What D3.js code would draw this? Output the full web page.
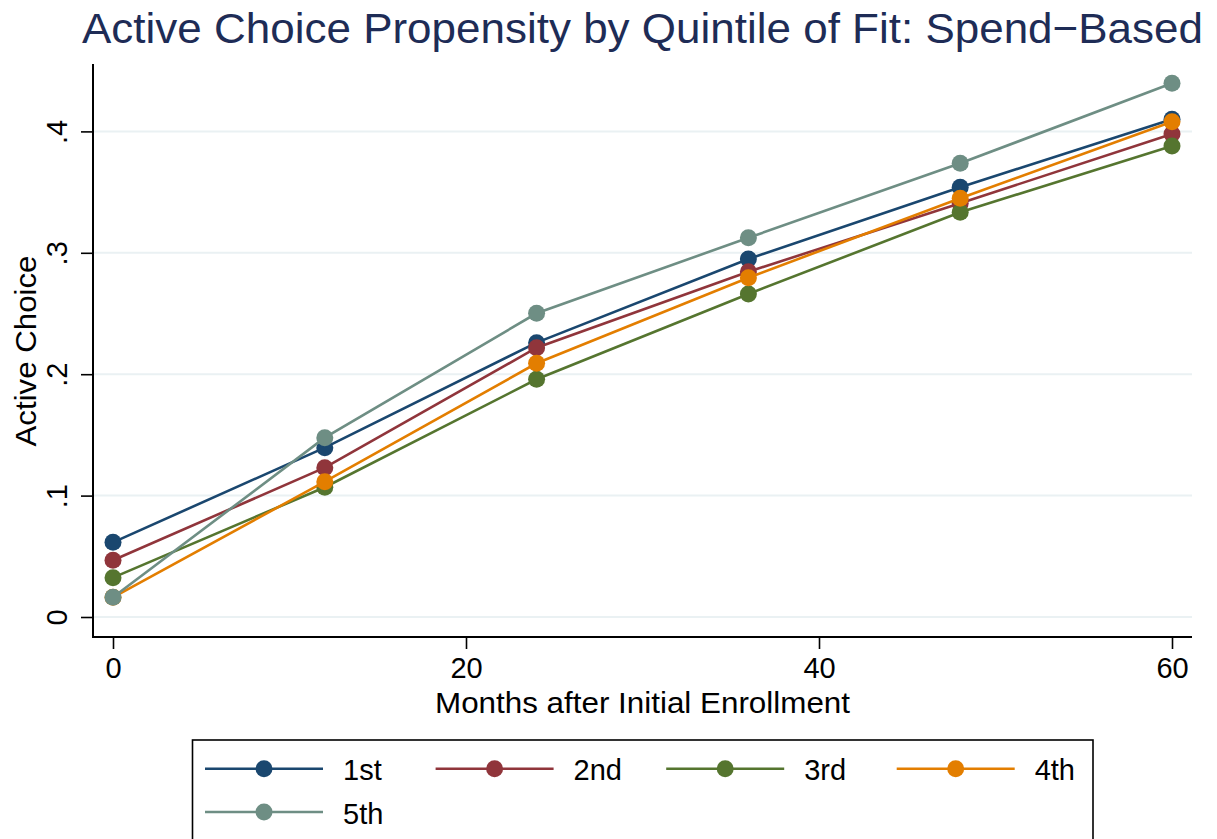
<!DOCTYPE html>
<html>
<head>
<meta charset="utf-8">
<script src="https://cdn.jsdelivr.net/npm/d3@7"></script>
<style>
  html, body { margin: 0; padding: 0; background: #ffffff; }
  svg { display: block; font-family: "Liberation Sans", Arial, Helvetica, sans-serif; }
</style>
</head>
<body>
<svg id="chart" width="1217" height="839"></svg>
<script>
// ---- Data ----
const months = [0, 12, 24, 36, 48, 60];
const seriesNames = ["1st", "2nd", "3rd", "4th", "5th"];
const seriesColors = ["#1a476f", "#90353b", "#55752f", "#e37e00", "#6e8e84"];
const q1 = [0.0615, 0.1395, 0.2260, 0.2949, 0.3540, 0.4100];
const q2 = [0.0467, 0.1230, 0.2218, 0.2844, 0.3408, 0.3979];
const q3 = [0.0324, 0.1069, 0.1958, 0.2661, 0.3334, 0.3880];
const q4 = [0.0162, 0.1115, 0.2090, 0.2795, 0.3449, 0.4080];
const q5 = [0.0162, 0.1477, 0.2502, 0.3124, 0.3737, 0.4396];
const seriesValues = [q1, q2, q3, q4, q5];
const xTicks = [0, 20, 40, 60];
const yTicks = [0, 0.1, 0.2, 0.3, 0.4];
const yTickLabels = ["0", ".1", ".2", ".3", ".4"];
const titleText = "Active Choice Propensity by Quintile of Fit: Spend\u2212Based";
const xTitle = "Months after Initial Enrollment";
const yTitle = "Active Choice";

// ---- Layout ----
const svg = d3.select("#chart");
const plotLeft = 93, plotRight = 1192, plotTop = 64, plotBottom = 637;
const x = d3.scaleLinear().domain([0, 60]).range([113, 1172]);
const y = d3.scaleLinear().domain([0, 0.4]).range([617, 131.4]);

// gridlines
svg.append("g").selectAll("line").data(yTicks).join("line")
  .attr("x1", plotLeft).attr("x2", plotRight)
  .attr("y1", d => y(d)).attr("y2", d => y(d))
  .attr("stroke", "#eaf1f3").attr("stroke-width", 2);

// y axis
const yAxis = svg.append("g").attr("transform", `translate(${plotLeft},0)`)
  .call(d3.axisLeft(y).tickValues(yTicks).tickSize(12).tickPadding(0)
    .tickFormat((d, i) => yTickLabels[i]));
yAxis.select(".domain").remove();
yAxis.selectAll(".tick line").attr("stroke", "#000").attr("stroke-width", 1.6);
yAxis.selectAll(".tick text")
  .attr("x", 0).attr("y", 0).attr("dy", null)
  .attr("transform", "translate(-26,0) rotate(-90)")
  .attr("text-anchor", "middle")
  .attr("font-size", 29).attr("fill", "#000")
  .style("font-family", "'Liberation Sans', Arial, sans-serif");

// x axis
const xAxis = svg.append("g").attr("transform", `translate(0,${plotBottom})`)
  .call(d3.axisBottom(x).tickValues(xTicks).tickSize(12).tickPadding(0)
    .tickFormat(d3.format("d")));
xAxis.select(".domain").remove();
xAxis.selectAll(".tick line").attr("stroke", "#000").attr("stroke-width", 1.6);
xAxis.selectAll(".tick text")
  .attr("y", 40.5).attr("dy", null)
  .attr("font-size", 29).attr("fill", "#000")
  .style("font-family", "'Liberation Sans', Arial, sans-serif");

// axis lines
svg.append("line").attr("x1", plotLeft).attr("x2", plotLeft)
  .attr("y1", plotTop).attr("y2", plotBottom + 1)
  .attr("stroke", "#000").attr("stroke-width", 2);
svg.append("line").attr("x1", plotLeft - 1).attr("x2", plotRight)
  .attr("y1", plotBottom).attr("y2", plotBottom)
  .attr("stroke", "#000").attr("stroke-width", 2);

// series
const line = d3.line().x((d, i) => x(months[i])).y(d => y(d));
seriesValues.forEach((vals, si) => {
  const g = svg.append("g");
  g.append("path").datum(vals).attr("d", line)
    .attr("fill", "none").attr("stroke", seriesColors[si]).attr("stroke-width", 2.6);
  g.selectAll("circle").data(vals).join("circle")
    .attr("cx", (d, i) => x(months[i])).attr("cy", d => y(d))
    .attr("r", 8.5).attr("fill", seriesColors[si]);
});

// title
svg.append("text").attr("x", 82).attr("y", 43)
  .attr("font-size", 43).attr("fill", "#1e2c56")
  .attr("textLength", 1121).attr("lengthAdjust", "spacingAndGlyphs")
  .text(titleText);

// axis titles
svg.append("text").attr("x", 642.5).attr("y", 712.5)
  .attr("text-anchor", "middle").attr("font-size", 30).attr("fill", "#000")
  .attr("textLength", 415).attr("lengthAdjust", "spacingAndGlyphs")
  .text(xTitle);
svg.append("text").attr("transform", "translate(36,351) rotate(-90)")
  .attr("text-anchor", "middle").attr("font-size", 30).attr("fill", "#000")
  .attr("textLength", 191).attr("lengthAdjust", "spacingAndGlyphs")
  .text(yTitle);

// legend
const legend = svg.append("g");
legend.append("rect").attr("x", 192.5).attr("y", 740).attr("width", 900.5).attr("height", 120)
  .attr("fill", "#fff").attr("stroke", "#000").attr("stroke-width", 1.6);
const colMarkers = [264, 494.6, 725.2, 955.7];
const rowYs = [768.7, 812];
seriesNames.forEach((name, i) => {
  const cx = colMarkers[i % 4];
  const cy = rowYs[Math.floor(i / 4)];
  const g = legend.append("g");
  g.append("line").attr("x1", cx - 59).attr("x2", cx + 59).attr("y1", cy).attr("y2", cy)
    .attr("stroke", seriesColors[i]).attr("stroke-width", 2.6);
  g.append("circle").attr("cx", cx).attr("cy", cy).attr("r", 8.5).attr("fill", seriesColors[i]);
  g.append("text").attr("x", cx + 79).attr("y", cy + 11.5)
    .attr("font-size", 29).attr("fill", "#000").text(name);
});
</script>
</body>
</html>
